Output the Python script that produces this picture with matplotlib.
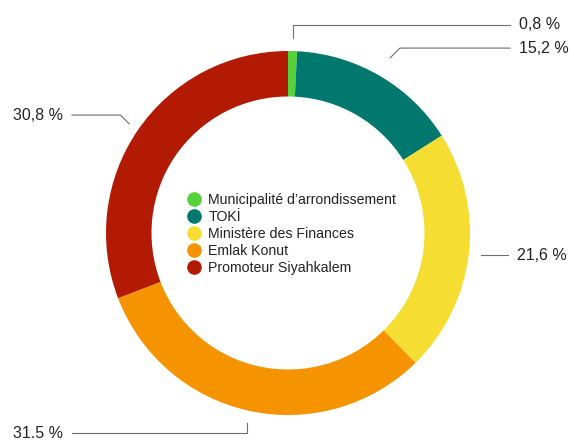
import matplotlib.pyplot as plt
from matplotlib.lines import Line2D
import numpy as np

plt.rcParams['font.family'] = ['Liberation Sans', 'DejaVu Sans']

owners = ["Municipalité d’arrondissement", "TOKİ", "Ministère des Finances",
          "Emlak Konut", "Promoteur Siyahkalem"]
shares = [0.8, 15.2, 21.6, 31.5, 30.8]
share_labels = ["0,8 %", "15,2 %", "21,6 %", "31.5 %", "30,8 %"]
colors = ["#55d13b", "#00786e", "#f6dd32", "#f59300", "#b31a04"]

W, H = 574, 440
cx, cy, R = 288, 233, 182   # pixel centre and outer radius of the ring

fig = plt.figure(figsize=(W / 100, H / 100), dpi=100)
ax = fig.add_axes([0, 0, 1, 1])
ax.pie(shares, colors=colors, startangle=90, counterclock=False,
       radius=1, wedgeprops=dict(width=0.25, linewidth=0))
ax.set_xlim(-cx / R, (W - cx) / R)
ax.set_ylim(-(H - cy) / R, cy / R)
ax.set_aspect('auto')
ax.axis('off')

# mid angle of each wedge (degrees, standard orientation)
cum = np.cumsum(shares) - np.array(shares) / 2
mid = np.deg2rad(90 - cum / sum(shares) * 360)

# leader layout: (start radius, elbow y, end x)
leaders = [
    (1.07, 1.143, 1.22),
    (1.115, 1.016, 1.22),
    (1.07, None, 1.21),
    (1.066, -1.099, -1.187),
    (1.058, 0.648, -1.187),
]
line_kw = dict(color="#6e6e6e", lw=0.8)
for ang, lab, (r0, ey, ex) in zip(mid, share_labels, leaders):
    x0, y0 = r0 * np.cos(ang), r0 * np.sin(ang)
    if ey is None:
        ey = y0
    if abs(ey - y0) > 0.01 and abs(np.sin(ang)) > 0.9:
        # vertical elbow
        xs, ys = [x0, x0, ex], [y0, ey, ey]
    else:
        dy = ey - y0
        xe = x0 + (abs(dy) if ex > 0 else -abs(dy))
        xs, ys = [x0, xe, ex], [y0, ey, ey]
    ax.plot(xs, ys, **line_kw)
    if ex > 0:
        ax.text(ex + 0.05, ey, lab, ha='left', va='center', fontsize=11.5, color="#222222")
    else:
        ax.text(ex - 0.05, ey, lab, ha='right', va='center', fontsize=11.5, color="#222222")

handles = [Line2D([], [], marker='o', linestyle='none', markersize=9.5,
                  markerfacecolor=c, markeredgecolor=c) for c in colors]
ax.legend(handles, owners, loc='center left', bbox_to_anchor=(187 / W, (H - 234) / H),
          frameon=False, fontsize=10.2, handlelength=1, handletextpad=0.5,
          labelspacing=0.22, borderpad=0, borderaxespad=0, labelcolor="#222222")

fig.savefig("out.png", dpi=100)
